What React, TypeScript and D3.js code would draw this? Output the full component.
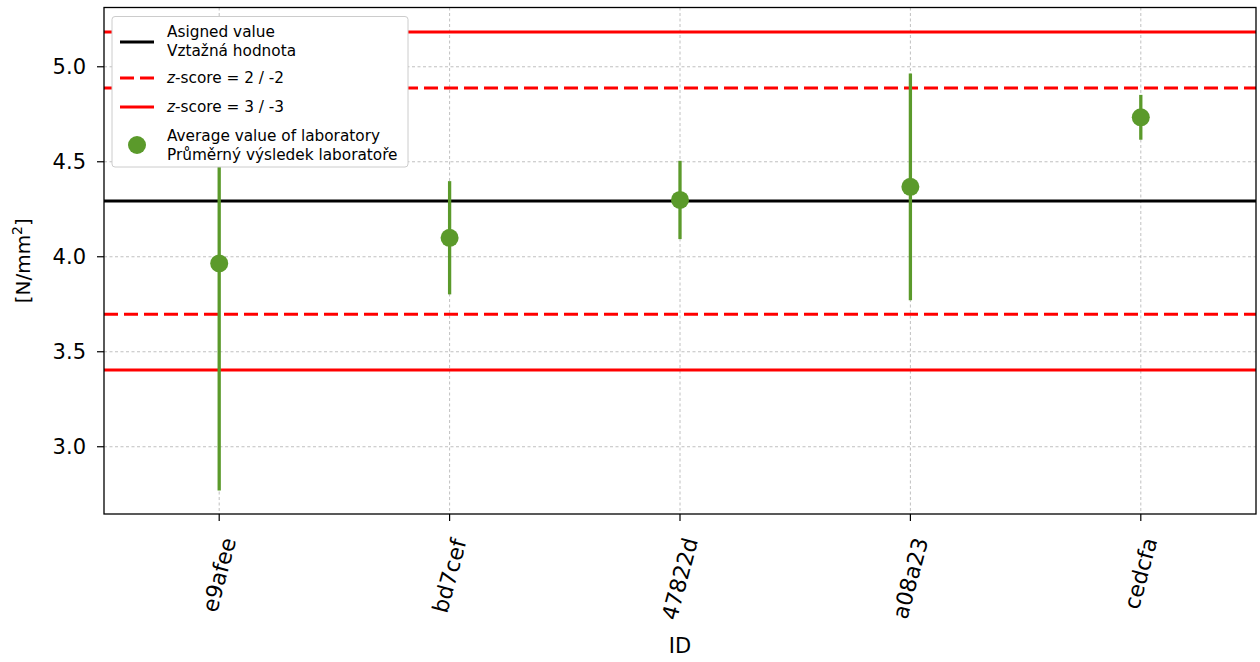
import React, { useEffect, useRef } from "react";
import * as d3 from "d3";

const labIds = ["e9afee", "bd7cef", "47822d", "a08a23", "cedcfa"];
const labMeans = [3.965, 4.1, 4.299, 4.368, 4.734];
const labErrors = [1.195, 0.298, 0.206, 0.597, 0.118];
const assignedValue = 4.293;
const z2Limits = [3.698, 4.888];
const z3Limits = [3.404, 5.183];
const yTicks = [3.0, 3.5, 4.0, 4.5, 5.0];

const W = 1260;
const H = 662;
const M = { left: 104, right: 1256, top: 7.5, bottom: 514 };
const GREEN = "#5b9a2b";
const FONT = "DejaVu Sans, sans-serif";

export default function App() {
  const ref = useRef<SVGSVGElement | null>(null);

  useEffect(() => {
    const svg = d3.select(ref.current);
    svg.selectAll("*").remove();

    const x = d3.scaleLinear().domain([-0.5, labIds.length - 0.5]).range([M.left, M.right]);
    const y = d3.scaleLinear().domain([2.646, 5.312]).range([M.bottom, M.top]);

    const g = svg.append("g");

    // grid
    const grid = g.append("g").attr("stroke", "#b0b0b0").attr("stroke-width", 0.8).attr("stroke-dasharray", "3,2.5");
    yTicks.forEach((t) => {
      grid.append("line").attr("x1", M.left).attr("x2", M.right).attr("y1", y(t)).attr("y2", y(t));
    });
    labIds.forEach((_, i) => {
      grid.append("line").attr("x1", x(i)).attr("x2", x(i)).attr("y1", M.top).attr("y2", M.bottom);
    });

    const hline = (v: number, color: string, dash?: string) => {
      const l = g
        .append("line")
        .attr("x1", M.left)
        .attr("x2", M.right)
        .attr("y1", y(v))
        .attr("y2", y(v))
        .attr("stroke", color)
        .attr("stroke-width", 3);
      if (dash) l.attr("stroke-dasharray", dash);
    };
    hline(assignedValue, "#000");
    z2Limits.forEach((v) => hline(v, "#ff0000", "14,6"));
    z3Limits.forEach((v) => hline(v, "#ff0000"));

    // error bars and points
    labIds.forEach((_, i) => {
      g.append("line")
        .attr("x1", x(i))
        .attr("x2", x(i))
        .attr("y1", y(labMeans[i] - labErrors[i]))
        .attr("y2", y(labMeans[i] + labErrors[i]))
        .attr("stroke", GREEN)
        .attr("stroke-width", 3.3);
      g.append("circle").attr("cx", x(i)).attr("cy", y(labMeans[i])).attr("r", 9).attr("fill", GREEN);
    });

    // spines
    g.append("rect")
      .attr("x", M.left)
      .attr("y", M.top)
      .attr("width", M.right - M.left)
      .attr("height", M.bottom - M.top)
      .attr("fill", "none")
      .attr("stroke", "#000")
      .attr("stroke-width", 1.3);

    // y ticks
    yTicks.forEach((t) => {
      g.append("line").attr("x1", M.left - 7).attr("x2", M.left).attr("y1", y(t)).attr("y2", y(t)).attr("stroke", "#000").attr("stroke-width", 1.2);
      g.append("text")
        .attr("x", M.left - 18)
        .attr("y", y(t))
        .attr("dy", "0.36em")
        .attr("text-anchor", "end")
        .attr("font-family", FONT)
        .attr("font-size", 21)
        .attr("fill", "#000")
        .text(d3.format(".1f")(t));
    });

    // x ticks + rotated labels
    labIds.forEach((id, i) => {
      g.append("line").attr("x1", x(i)).attr("x2", x(i)).attr("y1", M.bottom).attr("y2", M.bottom + 7).attr("stroke", "#000").attr("stroke-width", 1.2);
      const t = g
        .append("text")
        .attr("font-family", FONT)
        .attr("font-size", 22)
        .attr("fill", "#000")
        .attr("text-anchor", "middle")
        .attr("transform", `translate(${x(i)},${M.bottom + 60}) rotate(-75)`)
        .attr("dy", "0.35em")
        .text(id);
      const node = t.node() as SVGTextElement;
      const rect = node.getBoundingClientRect();
      const svgRect = (ref.current as SVGSVGElement).getBoundingClientRect();
      const cx = rect.left - svgRect.left + rect.width / 2;
      const top = rect.top - svgRect.top;
      const dx = x(i) - cx;
      const dy = M.bottom + 21 - top;
      t.attr("transform", `translate(${x(i) + dx},${M.bottom + 60 + dy}) rotate(-75)`);
    });

    // axis labels
    g.append("text")
      .attr("x", (M.left + M.right) / 2)
      .attr("y", 653)
      .attr("text-anchor", "middle")
      .attr("font-family", FONT)
      .attr("font-size", 21)
      .text("ID");
    const yl = g
      .append("text")
      .attr("transform", `translate(30,${(M.top + M.bottom) / 2}) rotate(-90)`)
      .attr("text-anchor", "middle")
      .attr("font-family", FONT)
      .attr("font-size", 20);
    yl.append("tspan").text("[N/mm");
    yl.append("tspan").attr("dy", -8).attr("font-size", 14).text("2");
    yl.append("tspan").attr("dy", 8).text("]");

    // legend
    const lg = g.append("g");
    lg.append("rect")
      .attr("x", 112)
      .attr("y", 16.5)
      .attr("width", 296)
      .attr("height", 150.5)
      .attr("rx", 3)
      .attr("fill", "#fff")
      .attr("stroke", "#cccccc")
      .attr("stroke-width", 1);
    const lx1 = 120;
    const lx2 = 154;
    const tx = 167;
    const fs = 15.3;
    const txt = (yy: number, parts: [string, boolean][]) => {
      const te = lg.append("text").attr("x", tx).attr("y", yy).attr("font-family", FONT).attr("font-size", fs).attr("fill", "#000");
      parts.forEach(([s, it]) => {
        const sp = te.append("tspan").text(s);
        if (it) sp.attr("font-style", "italic");
      });
    };
    lg.append("line").attr("x1", lx1).attr("x2", lx2).attr("y1", 42).attr("y2", 42).attr("stroke", "#000").attr("stroke-width", 3);
    txt(37, [["Asigned value", false]]);
    txt(55.5, [["Vztažná hodnota", false]]);
    lg.append("line").attr("x1", lx1).attr("x2", lx2).attr("y1", 78).attr("y2", 78).attr("stroke", "#ff0000").attr("stroke-width", 3).attr("stroke-dasharray", "14,6");
    txt(83, [["z", true], ["-score = 2 / -2", false]]);
    lg.append("line").attr("x1", lx1).attr("x2", lx2).attr("y1", 107).attr("y2", 107).attr("stroke", "#ff0000").attr("stroke-width", 3);
    txt(112, [["z", true], ["-score = 3 / -3", false]]);
    lg.append("circle").attr("cx", 137).attr("cy", 145).attr("r", 9).attr("fill", GREEN);
    txt(141, [["Average value of laboratory", false]]);
    txt(159.5, [["Průměrný výsledek laboratoře", false]]);
  }, []);

  return (
    <svg
      ref={ref}
      width={W}
      height={H}
      style={{ position: "absolute", left: 0, top: 0, background: "#fff" }}
    />
  );
}
